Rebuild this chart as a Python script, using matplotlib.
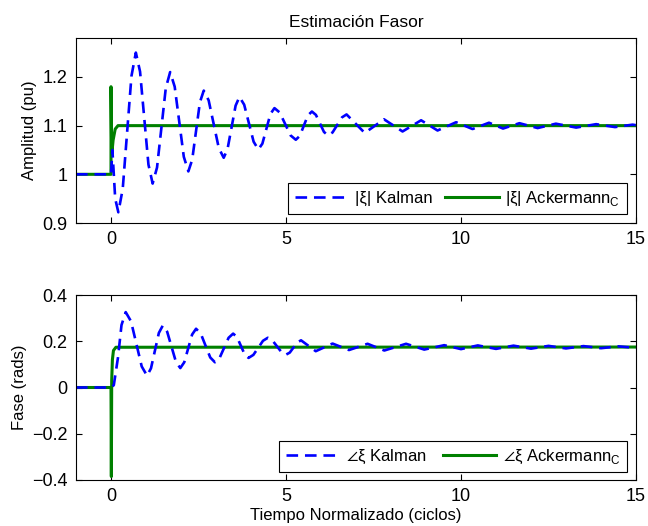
import matplotlib
matplotlib.use("Agg")
import matplotlib.pyplot as plt
from matplotlib.ticker import FuncFormatter

plt.rcParams['font.family'] = ['Liberation Sans', 'DejaVu Sans']
plt.rcParams['mathtext.fontset'] = 'custom'
plt.rcParams['mathtext.rm'] = 'Liberation Sans'
plt.rcParams['mathtext.fallback'] = 'stixsans'
plt.rcParams['font.size'] = 12

# amplitude, Kalman estimate
amp_kal_t = [-1, 0, 0.04, 0.12, 0.21, 0.335, 0.46, 0.585, 0.71, 0.83, 0.95, 1.07, 1.19,
             1.315, 1.44, 1.565, 1.69, 1.82, 1.95, 2.08, 2.21, 2.32, 2.43, 2.54, 2.65,
             2.79, 2.935, 3.08, 3.22, 3.33, 3.445, 3.56, 3.67, 3.805, 3.94, 4.075, 4.21,
             4.325, 4.44, 4.555, 4.67, 4.82, 4.975, 5.13, 5.28, 5.395, 5.51, 5.625, 5.74,
             5.855, 5.97, 6.085, 6.2, 6.33, 6.465, 6.6, 6.73, 6.99, 7.25, 7.525, 7.8,
             8.065, 8.33, 8.595, 8.86, 9.095, 9.33, 9.595, 9.86, 10.33, 10.8, 11.2, 11.67,
             12.19, 12.71, 13.29, 13.86, 14.4, 14.9, 15]
amp_kal_y = [1.0, 1.0, 1.05, 0.95, 0.922, 0.970, 1.086, 1.202, 1.250, 1.211, 1.1155, 1.020, 0.981,
             1.014, 1.0955, 1.177, 1.210, 1.180, 1.108, 1.036, 1.006, 1.030, 1.089, 1.148, 1.172,
             1.152, 1.103, 1.054, 1.034, 1.052, 1.0965, 1.141, 1.159, 1.143, 1.105, 1.067, 1.051,
             1.063, 1.0935, 1.124, 1.136, 1.127, 1.1035, 1.080, 1.071, 1.079, 1.100, 1.121, 1.129,
             1.122, 1.1045, 1.087, 1.080, 1.086, 1.1015, 1.117, 1.123, 1.104, 1.085, 1.099, 1.113,
             1.1005, 1.088, 1.0995, 1.111, 1.1005, 1.090, 1.0985, 1.107, 1.093, 1.106, 1.094, 1.105,
             1.095, 1.104, 1.096, 1.103, 1.097, 1.102, 1.101]

# amplitude, Ackermann estimate
amp_ack_t = [-1, 0, 0, 0.02, 0.06, 0.12, 0.2, 15]
amp_ack_y = [1.0, 1.0, 1.18, 1.04, 1.07, 1.093, 1.1, 1.1]

# phase, Kalman estimate
ph_kal_t = [-1, 0, 0.08, 0.2, 0.3, 0.42, 0.5725, 0.725, 0.8775, 1.03, 1.1425, 1.255, 1.3675,
            1.48, 1.605, 1.73, 1.855, 1.98, 2.0925, 2.205, 2.3175, 2.43, 2.565, 2.7, 2.835,
            2.97, 3.1, 3.23, 3.36, 3.49, 3.6, 3.71, 3.82, 3.93, 4.0675, 4.205, 4.3425, 4.48,
            4.61, 4.74, 4.87, 5.0, 5.1075, 5.215, 5.3225, 5.43, 5.64, 5.85, 6.09, 6.33, 6.565,
            6.8, 7.065, 7.33, 7.81, 8.43, 8.95, 9.52, 10.0, 10.48, 11.0, 11.5, 12.0, 12.5,
            13.0, 13.5, 14.0, 14.5, 15]
ph_kal_y = [0.0, 0.0, 0.01, 0.13, 0.27, 0.326, 0.286, 0.1885, 0.091, 0.051, 0.083, 0.1595, 0.236,
            0.268, 0.241, 0.176, 0.111, 0.084, 0.109, 0.169, 0.229, 0.254, 0.233, 0.1815, 0.130,
            0.109, 0.127, 0.171, 0.215, 0.233, 0.218, 0.1805, 0.143, 0.128, 0.141, 0.1715, 0.202, 0.215,
            0.204, 0.1785, 0.153, 0.142, 0.151, 0.173, 0.195, 0.204, 0.1805, 0.157, 0.1735, 0.19, 0.176,
            0.162, 0.1755, 0.189, 0.160, 0.189, 0.164, 0.183, 0.166, 0.182, 0.167, 0.181, 0.168, 0.180,
            0.169, 0.179, 0.170, 0.178, 0.171]

# phase, Ackermann estimate
ph_ack_t = [-1, 0, 0.01, 0.02, 0.04, 0.07, 0.14, 15]
ph_ack_y = [0.0, 0.0, -0.385, 0.03, 0.12, 0.16, 0.174, 0.175]

x_ticks = [0, 5, 10, 15]
amp_ticks = [0.9, 1.0, 1.1, 1.2]
ph_ticks = [-0.4, -0.2, 0, 0.2, 0.4]

blue = (0, 0, 1)
green = (0, 0.5, 0)


def fmt(v, pos):
    return ('%g' % v).replace('-', '\u2212')


def style(ax):
    ax.tick_params(direction='in', top=True, right=True, length=4, width=0.8,
                   labelsize=13, pad=6)
    ax.xaxis.set_major_formatter(FuncFormatter(fmt))
    ax.yaxis.set_major_formatter(FuncFormatter(fmt))
    for s in ax.spines.values():
        s.set_linewidth(0.8)


fig = plt.figure(figsize=(6.48, 5.26), dpi=100)
ax1 = fig.add_axes([76 / 648, 1 - 223 / 526, 560 / 648, 185 / 526])
ax2 = fig.add_axes([76 / 648, 1 - 480 / 526, 560 / 648, 185 / 526])

ax1.plot(amp_ack_t, amp_ack_y, '-', color=green, lw=2.2,
         label='|ξ| Ackermann$_\\mathrm{C}$')
ax1.plot(amp_kal_t, amp_kal_y, '--', color=blue, lw=1.9, dashes=(4.4, 2.6),
         label='|ξ| Kalman')
ax1.set_xlim(-1, 15)
ax1.set_ylim(0.9, 1.28)
ax1.set_xticks(x_ticks)
ax1.set_yticks(amp_ticks)
ax1.set_ylabel('Amplitud (pu)', fontsize=12)
ax1.set_title('Estimación Fasor', fontsize=12.5, pad=8)
style(ax1)

ax2.plot(ph_ack_t, ph_ack_y, '-', color=green, lw=2.2,
         label='$\\angle$ξ Ackermann$_\\mathrm{C}$')
ax2.plot(ph_kal_t, ph_kal_y, '--', color=blue, lw=1.9, dashes=(4.4, 2.6),
         label='$\\angle$ξ Kalman')
ax2.set_xlim(-1, 15)
ax2.set_ylim(-0.4, 0.4)
ax2.set_xticks(x_ticks)
ax2.set_yticks(ph_ticks)
ax2.set_ylabel('Fase (rads)', fontsize=12)
ax2.set_xlabel('Tiempo Normalizado (ciclos)', fontsize=12, labelpad=2)
style(ax2)

for ax, box in ((ax1, (0.379, 0.047, 0.605, 0.198)), (ax2, (0.363, 0.042, 0.621, 0.205))):
    h, l = ax.get_legend_handles_labels()
    leg = ax.legend(h[::-1], l[::-1], loc='lower left', bbox_to_anchor=box, mode='expand',
                    ncol=2, fancybox=False, framealpha=1, edgecolor='k', handlelength=3.2,
                    handletextpad=0.4, columnspacing=0.6, borderaxespad=0, fontsize=12)
    leg.get_frame().set_linewidth(0.8)

fig.savefig('out.png', dpi=100)
